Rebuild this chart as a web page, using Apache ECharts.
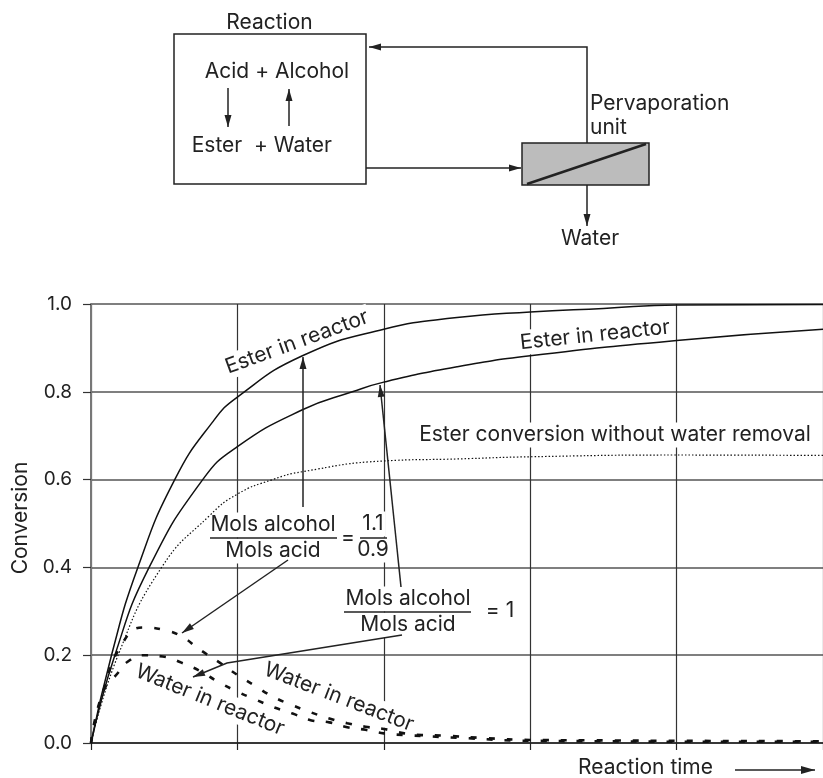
<!DOCTYPE html>
<html>
<head>
<meta charset="utf-8">
<title>Pervaporation conversion chart</title>
<style>
  html, body { margin: 0; padding: 0; background: #fff; }
  #chart { width: 823px; height: 778px; }
</style>
<script src="https://cdn.jsdelivr.net/npm/echarts@6/dist/echarts.min.js"></script>
</head>
<body>
<div id="chart"></div>
<script>
const yTicks = [0, 0.2, 0.4, 0.6, 0.8, 1.0];

// [reaction time in axis units, conversion]
const esterRich = [[0, 0], [0.14, 0.2], [0.32, 0.4], [0.572, 0.6], [0.83, 0.731], [1, 0.788],
    [1.444, 0.882], [2, 0.9425], [2.5, 0.969], [3, 0.982], [3.5, 0.99], [4, 0.998], [5, 0.999]];
const esterEqual = [[0, 0], [0.163, 0.2], [0.397, 0.4], [0.763, 0.6], [1, 0.675],
    [1.444, 0.759], [1.785, 0.8], [2, 0.822], [2.5, 0.857], [3, 0.882], [4, 0.917], [5, 0.9425]];
const esterNoRemoval = [[0, 0], [0.185, 0.2], [0.482, 0.4], [0.81, 0.518], [1, 0.567],
    [1.24, 0.6], [1.444, 0.618], [2, 0.6425], [2.5, 0.647], [3, 0.652], [4, 0.656], [5, 0.655]];
const waterRich = [[0, 0], [0.083, 0.117], [0.22, 0.23], [0.356, 0.263], [0.505, 0.257], [0.618, 0.243],
    [0.742, 0.213], [0.879, 0.183], [1, 0.155], [1.117, 0.131], [1.24, 0.106], [1.377, 0.086], [1.5, 0.07],
    [1.628, 0.056], [1.75, 0.045], [1.875, 0.037], [2, 0.032], [2.14, 0.022], [2.26, 0.018], [2.39, 0.017],
    [2.7, 0.011], [3, 0.007], [3.5, 0.006], [4, 0.005], [5, 0.004]];
const waterEqual = [[0, 0], [0.083, 0.117], [0.185, 0.16], [0.25, 0.185], [0.356, 0.2], [0.49, 0.197], [0.618, 0.183],
    [0.75, 0.163], [0.865, 0.14], [1, 0.117], [1.13, 0.098], [1.253, 0.081], [1.377, 0.067], [1.5, 0.052],
    [1.628, 0.047], [1.75, 0.036], [1.875, 0.03], [2, 0.022], [2.14, 0.018], [2.26, 0.016], [2.5, 0.012],
    [3, 0.005], [3.5, 0.004], [4, 0.003], [5, 0.003]];

const INK = '#222';
const FONT = 'Inter, "Liberation Sans", Arial, sans-serif';
const FONT_SIZE = 21;

// 文字标注
function label(text, x, y, rotate = 0, bg = null, align = 'center') {
    return {
        type: 'text', x, y, z: bg ? 1 : 20,
        rotation: rotate * Math.PI / 180,
        style: {
            text, fill: INK, font: `${FONT_SIZE}px ${FONT}`,
            align, verticalAlign: 'middle',
            backgroundColor: bg || undefined,
            padding: bg ? [2, 2, 2, 2] : 0
        }
    };
}

function line(points, width = 1.5) {
    return {
        type: 'polyline', z: 20,
        shape: { points },
        style: { stroke: INK, lineWidth: width, fill: null }
    };
}

// 折线加箭头，最后一个点是箭尖
function arrow(points, width = 1.5, len = 12, half = 3.5) {
    const [tx, ty] = points[points.length - 1];
    const [fx, fy] = points[points.length - 2];
    const d = Math.hypot(tx - fx, ty - fy);
    const ux = (tx - fx) / d, uy = (ty - fy) / d;
    const head = [[tx, ty],
        [tx - ux * len - uy * half, ty - uy * len + ux * half],
        [tx - ux * len + uy * half, ty - uy * len - ux * half]];
    return [line(points, width), { type: 'polygon', z: 20, shape: { points: head }, style: { fill: INK } }];
}

const diagram = [
    { type: 'rect', z: 20, shape: { x: 174, y: 34, width: 192, height: 150 }, style: { fill: '#fff', stroke: INK, lineWidth: 1.5 } },
    { type: 'rect', z: 20, shape: { x: 522, y: 143, width: 127, height: 42 }, style: { fill: '#bcbcbc', stroke: INK, lineWidth: 1.5 } },
    line([[527, 184], [646, 144]], 2.5),
    label('Reaction', 269.5, 23),
    label('Acid + Alcohol', 277, 72),
    label('Ester', 217, 146),
    label('+ Water', 293, 146),
    label('Pervaporation', 590, 104, 0, null, 'left'),
    label('unit', 590, 128, 0, null, 'left'),
    label('Water', 590, 239),
    ...arrow([[228, 88], [228, 127]]),
    ...arrow([[289, 126], [289, 89]]),
    ...arrow([[587, 143], [587, 47], [369, 47]]),
    ...arrow([[366, 168], [521, 168]]),
    ...arrow([[587, 185], [587, 226]])
];

const annotations = [
    label('Ester in reactor', 297, 342, 20, '#fff'),
    label('Ester in reactor', 595, 335, 6, '#fff'),
    label('Ester conversion without water removal', 615, 435, 0, '#fff'),
    label('Water in reactor', 210, 700, -22, '#fff'),
    label('Water in reactor', 339, 697, -21, '#fff'),
    label('Mols alcohol', 273, 525, 0, '#fff'),
    label('Mols acid', 273, 551, 0, '#fff'),
    line([[210, 538], [337, 538]]),
    label('=', 348, 538),
    label('1.1', 373, 524, 0, '#fff'),
    line([[360, 538], [387, 538]]),
    label('0.9', 373, 550, 0, '#fff'),
    label('Mols alcohol', 408, 599, 0, '#fff'),
    label('Mols acid', 408, 625, 0, '#fff'),
    line([[344, 612], [471, 612]]),
    label('= 1', 500, 611),
    ...arrow([[303, 507], [303, 357]]),
    ...arrow([[401, 587], [380, 385]]),
    ...arrow([[288, 560], [182, 633]]),
    ...arrow([[402, 635], [227, 663], [193, 677]]),
    ...arrow([[735, 770], [815, 770]], 1.5, 14, 4)
];

const curve = (name, data, lineStyle) => ({
    name, type: 'line', data, smooth: 0.5, symbol: 'none', z: 3,
    lineStyle: { color: '#111', ...lineStyle }
});

const chart = echarts.init(document.getElementById('chart'), null, { renderer: 'canvas' });
chart.setOption({
    animation: false,
    backgroundColor: '#fff',
    textStyle: { fontFamily: FONT },
    grid: { left: 91, right: -2, top: 304, bottom: 33, containLabel: false },
    xAxis: {
        type: 'value', min: 0, max: 5, interval: 1,
        name: 'Reaction time', nameLocation: 'end', nameGap: -110,
        nameTextStyle: { fontSize: FONT_SIZE, color: INK, align: 'right', verticalAlign: 'top', padding: [14, 0, 0, 0] },
        axisLine: { show: true, onZero: false, lineStyle: { color: INK, width: 1.5 } },
        axisTick: { show: true, length: 7, lineStyle: { color: INK, width: 1.2 } },
        axisLabel: { show: false },
        splitLine: { show: true, lineStyle: { color: '#333', width: 1.2 } }
    },
    yAxis: {
        type: 'value', min: 0, max: 1, interval: 0.2,
        name: 'Conversion', nameLocation: 'middle', nameGap: 60, nameRotate: 90,
        nameTextStyle: { fontSize: FONT_SIZE, color: INK, padding: [0, 0, 0, 11] },
        axisLine: { show: true, lineStyle: { color: '#777', width: 2 } },
        axisTick: { show: true, length: 8, lineStyle: { color: '#333', width: 1.2 } },
        axisLabel: {
            fontSize: 19, color: INK, margin: 19,
            formatter: v => yTicks.find(t => Math.abs(t - v) < 1e-6).toFixed(1)
        },
        splitLine: { show: true, lineStyle: { color: '#555', width: 1.5 } }
    },
    series: [
        curve('Ester in reactor (1.1/0.9)', esterRich, { width: 1.5 }),
        curve('Ester in reactor (1)', esterEqual, { width: 1.5 }),
        curve('Ester conversion without water removal', esterNoRemoval, { width: 1.2, type: [1.5, 2] }),
        curve('Water in reactor (1.1/0.9)', waterRich, { width: 2.6, type: [6, 12] }),
        curve('Water in reactor (1)', waterEqual, { width: 2.6, type: [6, 12] })
    ],
    graphic: { elements: [...diagram, ...annotations] }
});
</script>
</body>
</html>
